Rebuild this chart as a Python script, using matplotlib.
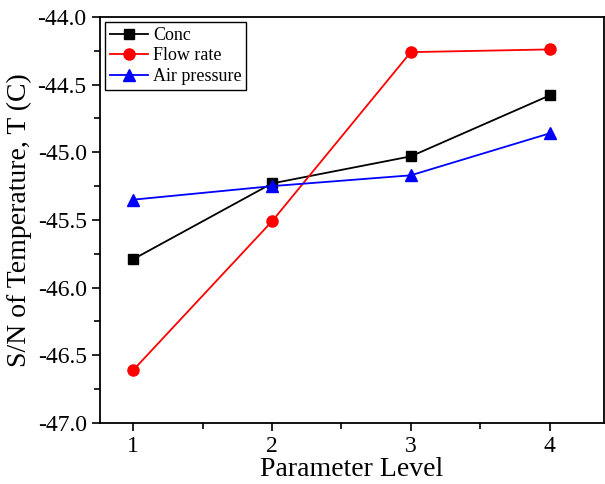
import matplotlib
matplotlib.use("Agg")
import matplotlib.pyplot as plt
from matplotlib.ticker import MultipleLocator

plt.rcParams['font.family'] = ['Liberation Serif', 'DejaVu Serif']

levels = [1, 2, 3, 4]
conc = [-45.79, -45.23, -45.03, -44.58]
flow_rate = [-46.61, -45.51, -44.26, -44.24]
air_pressure = [-45.35, -45.25, -45.17, -44.86]

fig = plt.figure(figsize=(6.05, 4.84), dpi=100)
ax = fig.add_axes([0.165, 0.126, 0.833, 0.839])

ax.plot(levels, conc, color="black", marker="s", ms=7, lw=1.3, label="Conc")
ax.plot(levels, flow_rate, color="red", marker="o", ms=8, lw=1.3, label="Flow rate")
ax.plot(levels, air_pressure, color="blue", marker="^", ms=8, lw=1.3, label="Air pressure")

ax.set_xlim(0.76, 4.39)
ax.set_ylim(-47, -44)
ax.xaxis.set_major_locator(MultipleLocator(1))
ax.xaxis.set_minor_locator(MultipleLocator(0.5))
ax.yaxis.set_major_locator(MultipleLocator(0.5))
ax.yaxis.set_minor_locator(MultipleLocator(0.25))
ax.yaxis.set_major_formatter(matplotlib.ticker.FormatStrFormatter("%.1f"))
ax.tick_params(which="both", direction="out", labelsize=17, width=1.2)
ax.tick_params(which="major", length=6)
ax.tick_params(which="minor", length=4)
ax.tick_params(axis="x", pad=3)
for s in ax.spines.values():
    s.set_linewidth(1.3)

ax.set_xlabel("Parameter Level", fontsize=20, labelpad=0)
ax.set_ylabel("S/N of Temperature, T (C)", fontsize=20, labelpad=4)

ax.legend(loc="upper left", fontsize=13, frameon=True, fancybox=False,
          edgecolor="black", framealpha=1, borderpad=0.25, handlelength=2.1,
          handletextpad=0.3, labelspacing=0.2, borderaxespad=0.3)

fig.savefig("out.png", dpi=100)
